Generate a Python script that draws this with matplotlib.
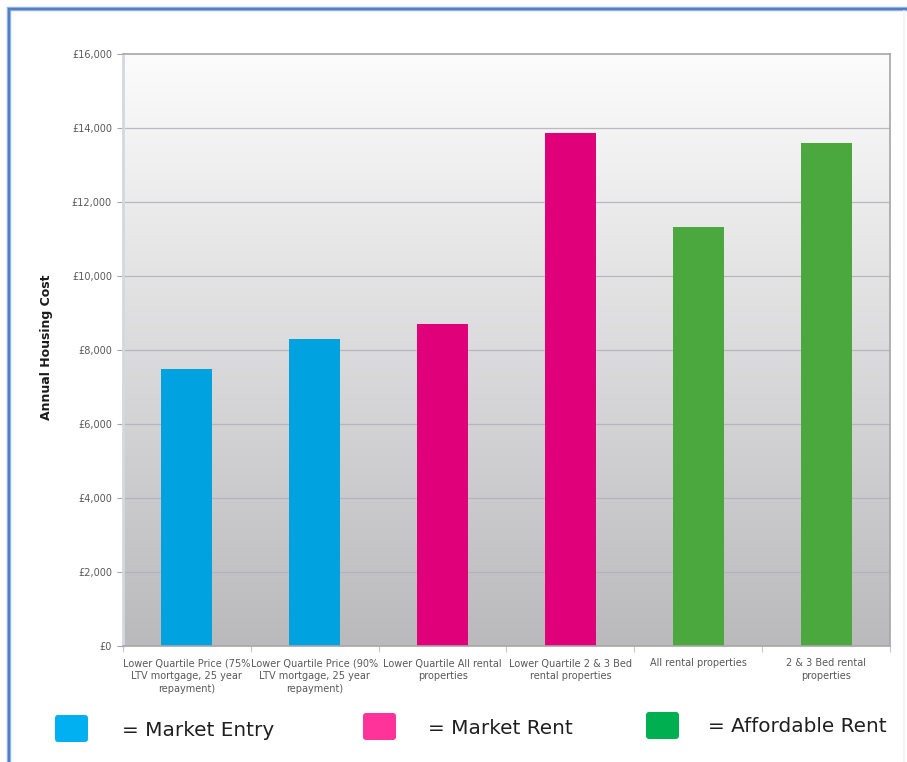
import numpy as np
import matplotlib
matplotlib.use("Agg")
import matplotlib.pyplot as plt
from matplotlib.patches import FancyBboxPatch
from matplotlib.lines import Line2D
from matplotlib.ticker import FuncFormatter, FixedLocator

# --- data -------------------------------------------------------------
categories = [
    "Lower Quartile Price (75%\nLTV mortgage, 25 year\nrepayment)",
    "Lower Quartile Price (90%\nLTV mortgage, 25 year\nrepayment)",
    "Lower Quartile All rental\nproperties",
    "Lower Quartile 2 & 3 Bed\nrental properties",
    "All rental properties",
    "2 & 3 Bed rental\nproperties",
]
annual_cost = [7500, 8300, 8690, 13860, 11330, 13600]
tenure_group = ["Market Entry", "Market Entry", "Market Rent", "Market Rent",
                "Affordable Rent", "Affordable Rent"]
group_names = ["Market Entry", "Market Rent", "Affordable Rent"]
bar_colours = {"Market Entry": "#00A3E0", "Market Rent": "#E0007A",
               "Affordable Rent": "#4BA83F"}
key_colours = {"Market Entry": "#00B0F0", "Market Rent": "#FF3399",
               "Affordable Rent": "#00B050"}
y_ticks = [0, 2000, 4000, 6000, 8000, 10000, 12000, 14000, 16000]
y_label = "Annual Housing Cost"

W, H = 907, 762
fig = plt.figure(figsize=(W / 100, H / 100), dpi=100)
fig.patch.set_facecolor("white")

# overlay in pixel units for the frame and the colour key
ov = fig.add_axes([0, 0, 1, 1])
ov.set_xlim(0, W)
ov.set_ylim(H, 0)
ov.axis("off")
ov.patch.set_alpha(0)

# page frame
ov.add_line(Line2D([9, 9, W], [H, 9, 9], color="#9DB8DE", lw=3.2,
                   solid_joinstyle="miter"))
ov.add_line(Line2D([9, 9, W], [H, 9, 9], color="#4F7FC6", lw=1.6,
                   solid_joinstyle="miter"))
ov.add_line(Line2D([904, 904], [11, H], color="#F2F2F5", lw=1.2))

# colour key
key_boxes = [(55, 715), (363, 713), (646, 712)]
key_text_x = [122, 428, 708]
for name, (bx, by), tx in zip(group_names, key_boxes, key_text_x):
    ov.add_patch(FancyBboxPatch((bx, by), 33, 27,
                                boxstyle="round,pad=0,rounding_size=3",
                                facecolor=key_colours[name], edgecolor="none"))
    ov.text(tx, by + 15, "= " + name, fontsize=14.4, color="#1f1f1f",
            va="center", ha="left", family="DejaVu Sans")

# --- main chart -------------------------------------------------------
left, right, top, bottom = 123, 890, 54, 646
ax = fig.add_axes([left / W, 1 - bottom / H, (right - left) / W,
                   (bottom - top) / H])

x = np.arange(len(categories))
ax.set_xlim(-0.5, len(categories) - 0.5)
ax.set_ylim(0, 16000)

# vertical grey gradient behind the bars
grad = np.linspace(0, 1, 256).reshape(-1, 1)
top_c = np.array([252, 252, 252]) / 255
bot_c = np.array([186, 186, 189]) / 255
img = top_c * (1 - grad[..., None]) + bot_c * grad[..., None]
img = img.reshape(256, 1, 3)
ax.imshow(img, extent=(-0.5, len(categories) - 0.5, 0, 16000),
          aspect="auto", origin="upper", zorder=0)

for yv in y_ticks[1:-1]:
    ax.axhline(yv, color="#b0b0b8", lw=0.9, alpha=0.85, zorder=1)

ax.bar(x, annual_cost, width=0.4,
       color=[bar_colours[g] for g in tenure_group], zorder=2)

# spines
for s in ["top", "right", "bottom"]:
    ax.spines[s].set_color("#a6a6a6")
    ax.spines[s].set_linewidth(1.2)
ax.spines["left"].set_color("#d6d6de")
ax.spines["left"].set_linewidth(2)

# y axis
ax.yaxis.set_major_locator(FixedLocator(y_ticks))
ax.yaxis.set_major_formatter(FuncFormatter(lambda v, p: "£{:,.0f}".format(v)))
ax.tick_params(axis="y", length=4, width=0.8, color="#a6a6a6", pad=4,
               labelsize=7, labelcolor="#595959")

# x axis: labels centred under bars, ticks at category boundaries
ax.set_xticks(x)
ax.set_xticklabels(categories, fontsize=7, color="#595959", linespacing=1.35)
ax.set_xticks(np.arange(-0.5, len(categories)), minor=True)
ax.tick_params(axis="x", which="major", length=0, pad=9)
ax.tick_params(axis="x", which="minor", length=4, width=0.8, color="#c8c8c8")

fig.text(47 / W, 1 - 347.5 / H, y_label, rotation=90, fontsize=9,
         fontweight="bold", color="#1a1a1a", ha="center", va="center")

fig.savefig("out.png", dpi=100, facecolor="white")
